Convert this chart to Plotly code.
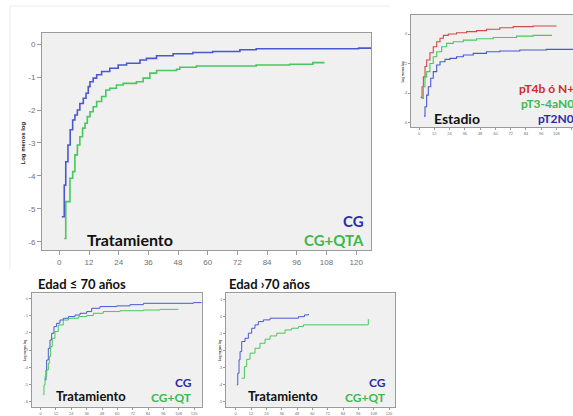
import plotly.graph_objects as go

W, H = 573, 416

# ---------------- data ----------------
# Main panel: Tratamiento
cg_t = [1, 2, 2.6, 3.5, 4.4, 5.4, 6.3, 7.3, 8.3, 9.7, 10.8, 11.7, 12.4, 13.7, 15.1, 17.1, 20.4,
        23.8, 27.2, 32.6, 35.2, 39.3, 46, 54, 62, 73, 79.6, 121, 126]
cg_y = [-5.24, -4.28, -3.57, -3.06, -2.6, -2.3, -2.15, -2.0, -1.8, -1.64, -1.49, -1.29, -1.14,
        -1.03, -0.93, -0.83, -0.73, -0.63, -0.58, -0.48, -0.43, -0.35, -0.29, -0.25, -0.22,
        -0.17, -0.14, -0.12, -0.12]
cgqta_t = [2.0, 2.6, 4.3, 5.4, 6.3, 7.3, 8.3, 9.4, 10.4, 11.3, 12.4, 13.7, 15.1, 17.1, 18.8,
           20.4, 23.1, 25.8, 31.2, 33.9, 36.6, 39.3, 47.4, 48.7, 55.4, 79.6, 93.1, 102.5, 107.2]
cgqta_y = [-5.9, -4.78, -4.07, -3.87, -3.36, -3.06, -2.81, -2.55, -2.4, -2.2, -2.05, -1.9, -1.74,
           -1.59, -1.39, -1.34, -1.24, -1.19, -1.14, -1.03, -0.88, -0.80, -0.76, -0.70, -0.66,
           -0.63, -0.61, -0.56, -0.56]

# Stage panel: Estadio
pt4_t = [1.3, 2.4, 3.4, 4.7, 6, 8.6, 11.2, 13.9, 16.5, 19.1, 23, 29.5, 37.4, 45.2, 53, 63.5,
         74, 89.7, 108]
pt4_y = [-4.29, -3.57, -2.9, -2.2, -1.76, -1.27, -0.86, -0.52, -0.29, -0.09, 0.0, 0.09, 0.16,
         0.23, 0.32, 0.43, 0.5, 0.54, 0.54]
pt34_t = [2.1, 3.4, 4.7, 6.0, 8.6, 11.2, 13.9, 17.8, 21.7, 26.9, 34.8, 45.2, 58.3, 76.6, 89.7, 104]
pt34_y = [-4.36, -3.57, -2.9, -2.55, -2.0, -1.54, -1.2, -0.86, -0.63, -0.52, -0.41, -0.32,
          -0.23, -0.14, -0.09, -0.05]
pt2_t = [3.9, 4.7, 6.0, 7.3, 9.2, 11.2, 13.9, 16.5, 20.4, 24.3, 29.5, 34.8, 42.6, 53, 63.5,
         79.2, 100, 121]
pt2_y = [-5.56, -4.93, -4.14, -3.57, -3.0, -2.55, -2.1, -1.88, -1.72, -1.65, -1.54, -1.42,
         -1.31, -1.2, -1.15, -1.08, -1.04, -1.04]

# Edad <= 70
y70_cg_t = [3.4, 4.2, 4.7, 6.0, 7.3, 8.6, 10.4, 12.5, 15.1, 17.7, 21.7, 26.9, 30.8, 36, 39.9,
            46.4, 59.5, 69.9, 80.4, 119.5, 126]
y70_cg_y = [-4.74, -4.16, -3.58, -2.9, -2.42, -2.03, -1.64, -1.45, -1.26, -1.16, -1.06, -0.97,
            -0.87, -0.77, -0.58, -0.48, -0.44, -0.37, -0.29, -0.25, -0.25]
y70_qt_t = [2.1, 2.6, 3.4, 4.7, 6.0, 6.8, 7.8, 9.1, 11.2, 13.8, 17.7, 21.7, 29.5, 36, 41.2, 49,
            62.1, 80.4, 93.4, 107.8]
y70_qt_y = [-5.6, -5.03, -4.55, -4.16, -3.77, -3.38, -2.8, -2.32, -1.93, -1.55, -1.26, -1.16,
            -1.06, -1.0, -0.87, -0.77, -0.72, -0.68, -0.64, -0.64]

# Edad > 70
o70_cg_t = [0.8, 1.6, 2.6, 3.4, 4.7, 7.3, 9.9, 12.5, 15.1, 17.7, 21.7, 26.9, 38.6, 49.1, 53.8, 56.9]
o70_cg_y = [-4.02, -3.34, -2.55, -2.07, -1.48, -1.29, -0.99, -0.70, -0.50, -0.31, -0.21, -0.11,
            -0.11, -0.02, 0.08, 0.14]
o70_qt_t = [4.7, 6.8, 8.6, 11.2, 15.1, 19.0, 23.0, 26.9, 32.1, 38.6, 43.8, 49.1, 53.0, 103.8]
o70_qt_y = [-3.63, -2.95, -2.52, -2.16, -1.87, -1.58, -1.34, -1.15, -0.99, -0.80, -0.70, -0.60,
            -0.50, -0.17]

x_ticks = [0, 12, 24, 36, 48, 60, 72, 84, 96, 108, 120]
main_yticks = [0, -1, -2, -3, -4, -5, -6]
stage_yticks = [0, -2, -4, -6]
y70_yticks = [0, -1, -2, -3, -4, -5, -6]
o70_yticks = [1, 0, -1, -2, -3, -4, -5]

# ---------------- style ----------------
BLUE = "#4a58cf"
GREEN = "#47c75c"
RED = "#d04848"
TBLUE = "#2c2ca6"
TGREEN = "#3db84c"
TRED = "#d42a2a"
AFONT = "Lato"
TICKF = "Liberation Sans"


def px_x(p):
    return p / W


def px_y(p):
    return 1 - p / H


fig = go.Figure()


def add(t, y, color, ax, width):
    fig.add_trace(go.Scatter(x=t, y=y, mode="lines", line=dict(color=color, width=width, shape="hv"),
                             xaxis="x" + ax, yaxis="y" + ax, showlegend=False, hoverinfo="skip"))


add(cg_t, cg_y, BLUE, "", 1.6)
add(cgqta_t, cgqta_y, GREEN, "", 1.6)
add(pt4_t, pt4_y, RED, "2", 1.1)
add(pt34_t, pt34_y, GREEN, "2", 1.1)
add(pt2_t, pt2_y, BLUE, "2", 1.1)
add(y70_cg_t, y70_cg_y, BLUE, "3", 1.0)
add(y70_qt_t, y70_qt_y, GREEN, "3", 1.0)
add(o70_cg_t, o70_cg_y, BLUE, "4", 1.0)
add(o70_qt_t, o70_qt_y, GREEN, "4", 1.0)


def xax(dom, rng, anchor, fs, tl, mirror=True):
    return dict(domain=dom, range=rng, anchor=anchor, tickvals=x_ticks,
                ticktext=[str(v) for v in x_ticks], showgrid=False, zeroline=False,
                showline=True, linecolor="#9a9a9a", linewidth=1, mirror=mirror,
                ticks="outside", ticklen=tl, tickcolor="#9a9a9a",
                tickfont=dict(family=TICKF, size=fs, color="#707070"))


def yax(dom, rng, anchor, vals, fs, tl, mirror=True):
    return dict(domain=dom, range=rng, anchor=anchor, tickvals=vals,
                ticktext=[("-" + str(-v)) if v < 0 else str(v) for v in vals],
                showgrid=False, zeroline=False, showline=True, linecolor="#9a9a9a",
                linewidth=1, mirror=mirror, ticks="outside", ticklen=tl, tickcolor="#9a9a9a",
                tickfont=dict(family=TICKF, size=fs, color="#707070"))


fig.update_layout(
    width=W, height=H, margin=dict(l=0, r=0, t=0, b=0),
    paper_bgcolor="white", plot_bgcolor="#f0f0f0",
    xaxis=xax([px_x(42), px_x(371)], [-7, 126], "y", 8, 4),
    yaxis=yax([px_y(250), px_y(33)], [-6.25, 0.34], "x", main_yticks, 8, 4),
    xaxis2=xax([px_x(411), 1.0], [-6.3, 121], "y2", 4, 2),
    yaxis2=yax([px_y(127), px_y(15)], [-6.3, 1.29], "x2", stage_yticks, 4, 2, mirror=False),
    xaxis3=xax([px_x(31.7), px_x(201.7)], [-7, 126], "y3", 4, 2),
    yaxis3=yax([px_y(406.7), px_y(293.3)], [-6.29, 0.29], "x3", y70_yticks, 4, 2),
    xaxis4=xax([px_x(226), px_x(395)], [-7.6, 124.7], "y4", 4, 2),
    yaxis4=yax([px_y(406.7), px_y(293.3)], [-5.3, 1.35], "x4", o70_yticks, 4, 2),
)

ann = []


def txt(text, x, y, color, size, anchor="left", angle=0, family=AFONT):
    ann.append(dict(text=text, x=px_x(x), y=px_y(y), xref="paper", yref="paper",
                    xanchor=anchor, yanchor="middle", showarrow=False, textangle=angle,
                    font=dict(family=family, size=size, color=color)))


# main
txt("<b>Tratamiento</b>", 85, 240, "#111111", 16)
txt("<b>CG</b>", 366, 221, TBLUE, 15, "right")
txt("<b>CG+QTA</b>", 366, 240, TGREEN, 15, "right")
txt("<b>Log menos log</b>", 22.5, 143, "#222222", 6, "center", -90, TICKF)
# stage
txt("<b>Estadio</b>", 432, 118, "#111111", 14)
txt("<b>pT4b ó N+</b>", 576, 88, TRED, 12, "right")
txt("<b>pT3-4aN0</b>", 576, 103, TGREEN, 12, "right")
txt("<b>pT2N0</b>", 576, 118, TBLUE, 12, "right")
txt("<b>Log menos log</b>", 402.5, 72, "#444444", 3, "center", -90, TICKF)
# edad <= 70
txt("<b>Edad ≤ 70 años</b>", 36, 284, "#111111", 13)
txt("<b>Tratamiento</b>", 54, 396, "#111111", 13)
txt("<b>CG</b>", 194, 382, TBLUE, 12, "right")
txt("<b>CG+QT</b>", 194, 397, TGREEN, 12, "right")
txt("<b>Log menos log</b>", 25, 350, "#444444", 3, "center", -90, TICKF)
# edad > 70
txt("<b>Edad ›70 años</b>", 227, 284, "#111111", 13)
txt("<b>Tratamiento</b>", 246, 396, "#111111", 13)
txt("<b>CG</b>", 388, 382, TBLUE, 12, "right")
txt("<b>CG+QT</b>", 388, 397, TGREEN, 12, "right")
txt("<b>Log menos log</b>", 220, 350, "#444444", 3, "center", -90, TICKF)

fig.update_layout(annotations=ann)

# faint outer frame of main panel
fig.add_shape(type="line", xref="paper", yref="paper", x0=px_x(10), x1=px_x(10), y0=px_y(6),
              y1=px_y(270), line=dict(color="#ececec", width=1))
fig.add_shape(type="line", xref="paper", yref="paper", x0=px_x(10), x1=px_x(390), y0=px_y(6),
              y1=px_y(6), line=dict(color="#ececec", width=1))

fig.write_html("out.html")
